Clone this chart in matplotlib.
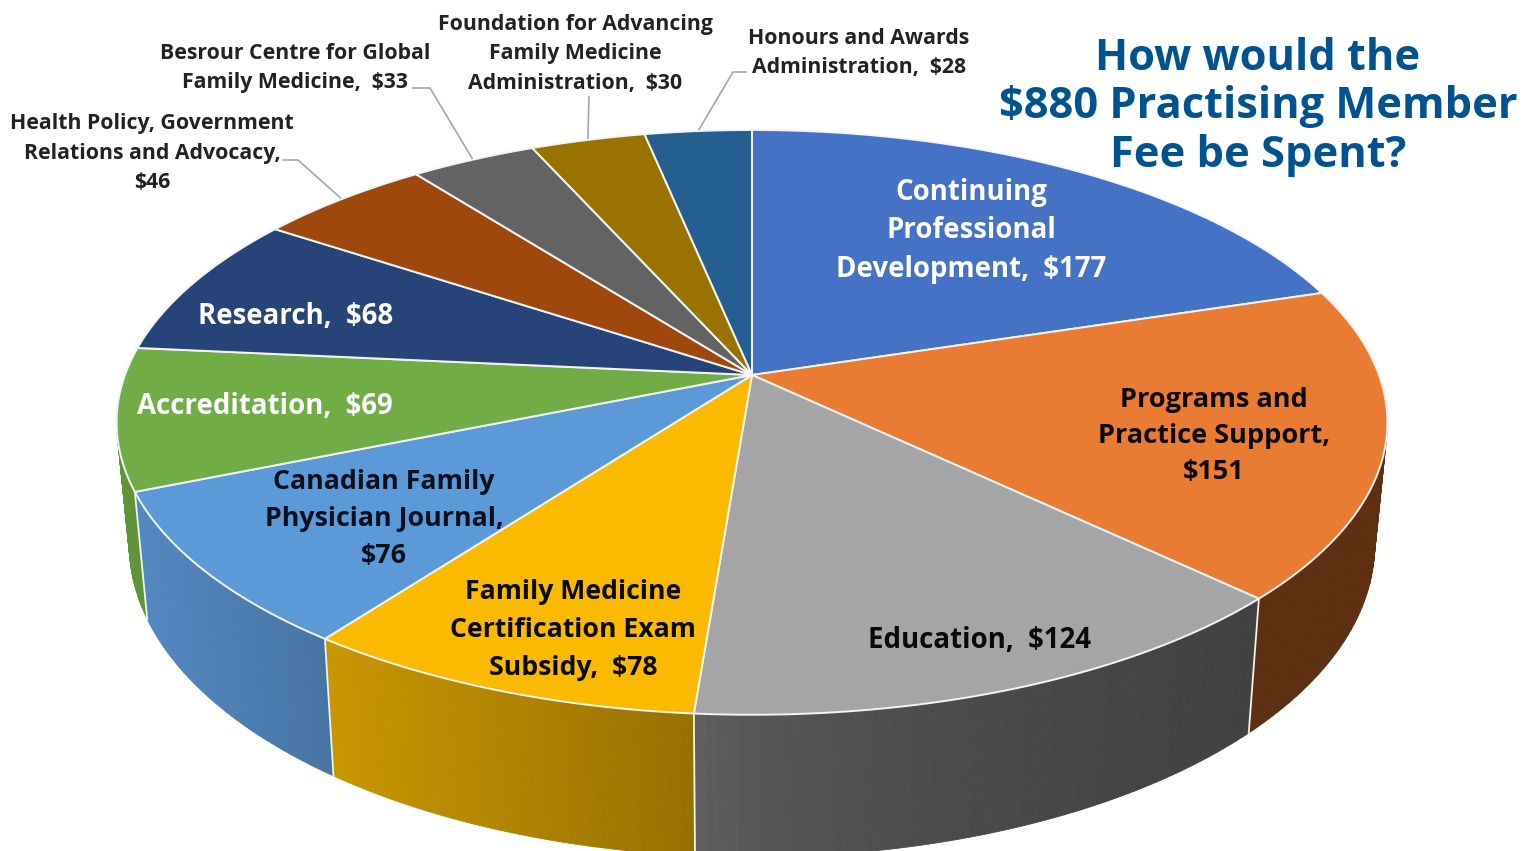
import numpy as np
import matplotlib
matplotlib.use("Agg")
import matplotlib.pyplot as plt
from matplotlib.colors import to_rgb

plt.rcParams["font.family"] = ["Open Sans", "Noto Sans", "DejaVu Sans"]

# Data
labels = [
    "Continuing\nProfessional\nDevelopment,  ${}",
    "Programs and\nPractice Support,\n${}",
    "Education,  ${}",
    "Family Medicine\nCertification Exam\nSubsidy,  ${}",
    "Canadian Family\nPhysician Journal,\n${}",
    "Accreditation,  ${}",
    "Research,  ${}",
    "Health Policy, Government\nRelations and Advocacy,\n${}",
    "Besrour Centre for Global\nFamily Medicine,  ${}",
    "Foundation for Advancing\nFamily Medicine\nAdministration,  ${}",
    "Honours and Awards\nAdministration,  ${}",
]
values = [177, 151, 124, 78, 76, 69, 68, 46, 33, 30, 28]

# Styles
top_colors = ["#4472C4", "#E97B33", "#A5A5A5", "#FBBA00", "#5B9AD6", "#70AD47",
              "#264478", "#9E480E", "#636363", "#997300", "#255E91"]
# left colour, right colour, gradient exponent
wall_colors = {
    1: ("#5E2F10", "#5E2F10", 1.0),
    2: ("#646464", "#414141", 0.45),
    3: ("#C89700", "#967100", 1.0),
    4: ("#5288C0", "#4774A4", 1.0),
    5: ("#5F9438", "#5F9438", 1.0),
}
text_colors = ["white", "#0A0A0A", "#0A0A0A", "#0A0A0A", "#0A1020", "white", "white",
               "#222222", "#222222", "#222222", "#222222"]
text_pos = [(971, 231), (1214, 436), (980, 641), (573, 630), (384, 519), (265, 406), (296, 317),
            (152, 153), (295, 68), (575, 54), (859, 53)]
text_sizes = [19.9, 19.5, 19.9, 19.2, 19.3, 19.9, 19.9, 15.3, 15.3, 15.3, 15.3]
text_spacing = [1.44, 1.52, 1.44, 1.58, 1.56, 1.44, 1.44, 1.53, 1.53, 1.53, 1.53]
leader_elbows = {7: [(283, 160), (298, 160)], 8: [(413, 88), (430, 88)],
                 9: [(589, 97)], 10: [(746, 72), (733, 72)]}

# Perspective of the pie disc in image pixels
CX, CY = 752, 375
AX, BY, K = 627, 284.7, 0.162


def project(angle, r=1.0):
    # angle in degrees, clockwise from the top
    # the source pie runs a little ahead on its lower left, small angle correction
    angle = angle - np.interp(angle, [134, 185, 216, 276, 300], [0, 0.45, 0.5, 0.6, 0])
    a = np.radians(angle)
    x, y = r * np.sin(a), r * np.cos(a)
    s = 1 / (1 + K * y)
    return CX + AX * x * s, CY - BY * y * s


def drop(px, py):
    # rim point -> same point on the bottom of the disc
    return CX + 0.98 * (px - CX), 1.068 * py + 93.6


edges = np.concatenate([[0], np.cumsum(values)]) / np.sum(values) * 360

fig = plt.figure(figsize=(15.33, 8.51), dpi=100)
ax = fig.add_axes([0, 0, 1, 1])
ax.set_xlim(0, 1533)
ax.set_ylim(851, 0)
ax.axis("off")

# side walls, painted first so the top face covers the hidden part
for i, (c0, c1, g) in wall_colors.items():
    th = np.linspace(edges[i], edges[i + 1], 61)
    px, py = project(th)
    bx, by = drop(px, py)
    lo, hi = px.min(), px.max()
    for j in range(60):
        t = (((px[j] + px[j + 1]) / 2 - lo) / (hi - lo)) ** g
        col = (1 - t) * np.array(to_rgb(c0)) + t * np.array(to_rgb(c1))
        ax.fill([px[j], px[j + 1], bx[j + 1], bx[j]], [py[j], py[j + 1], by[j + 1], by[j]],
                color=col, lw=0.6, zorder=1)

# white seams between walls
for i in [2, 3, 4, 5]:
    px, py = project(edges[i])
    bx, by = drop(px, py)
    ax.plot([px, bx], [py, by], color="#F2F2F2", lw=1.3, zorder=2)

# top face
for i in range(len(values)):
    th = np.linspace(edges[i], edges[i + 1], 80)
    px, py = project(th)
    ax.fill(np.r_[CX, px], np.r_[CY, py], facecolor=top_colors[i], edgecolor="#F4F4F4",
            lw=1.4, joinstyle="round", zorder=3)

# leader lines
for i, pts in leader_elbows.items():
    ex, ey = project((edges[i] + edges[i + 1]) / 2)
    xs = [p[0] for p in pts] + [ex]
    ys = [p[1] for p in pts] + [ey]
    ax.plot(xs, ys, color="#A6A6A6", lw=1.2, zorder=2)

for i in range(len(values)):
    ax.text(text_pos[i][0], text_pos[i][1], labels[i].format(values[i]), color=text_colors[i],
            fontsize=text_sizes[i], fontweight="bold", ha="center", va="center",
            linespacing=text_spacing[i], zorder=5)

ax.text(1258, 107, "How would the\n$880 Practising Member\nFee be Spent?", color="#00538F",
        fontsize=31.2, fontweight="bold", ha="center", va="center", linespacing=1.18, zorder=5)

fig.savefig("out.png", dpi=100)
